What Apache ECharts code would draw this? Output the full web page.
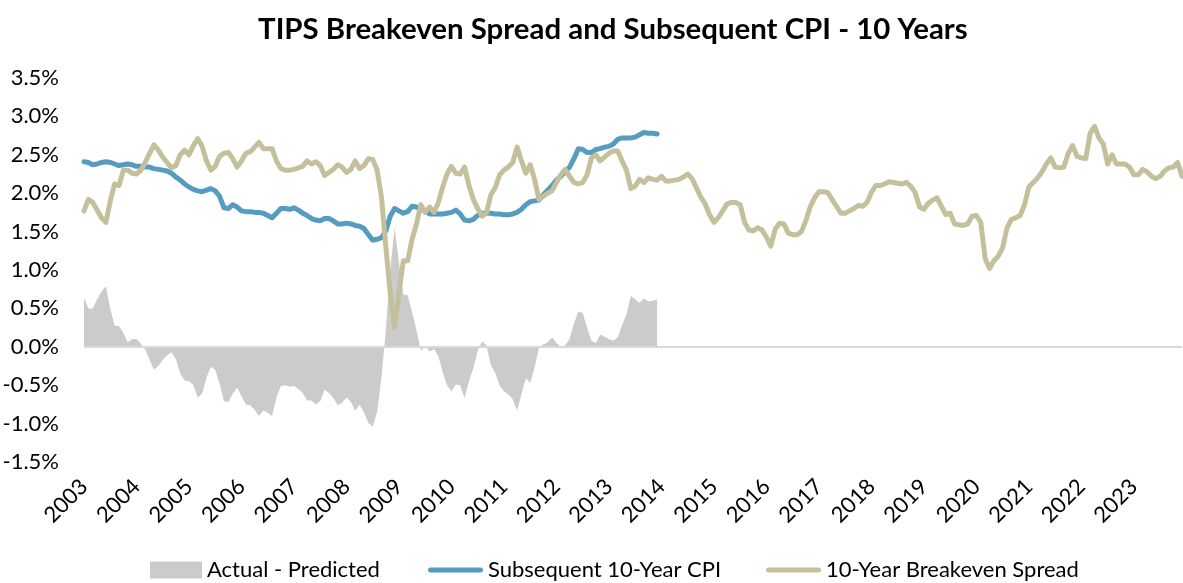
<!DOCTYPE html>
<html><head><meta charset="utf-8">
<script src="https://cdn.jsdelivr.net/npm/echarts@6/dist/echarts.min.js"></script>
<style>html,body{margin:0;padding:0;background:#fff}#c{width:1183px;height:583px}</style>
</head><body><div id="c"></div>
<script>
const years = ['2003','2004','2005','2006','2007','2008','2009','2010','2011','2012','2013',
  '2014','2015','2016','2017','2018','2019','2020','2021','2022','2023'];
const months = [];
years.forEach(y => { for (let m = 1; m <= 12; m++) months.push(y + '-' + String(m).padStart(2, '0')); });

const breakeven = [
  1.77,1.92,1.88,1.78,1.68,1.62,1.90,2.12,2.10,2.30,2.30,2.26,
  2.25,2.30,2.40,2.52,2.63,2.56,2.47,2.40,2.33,2.36,2.50,2.56,
  2.50,2.62,2.71,2.61,2.42,2.30,2.35,2.48,2.52,2.53,2.45,2.34,
  2.42,2.52,2.54,2.60,2.66,2.58,2.58,2.58,2.42,2.32,2.30,2.30,
  2.31,2.33,2.35,2.42,2.38,2.41,2.36,2.23,2.27,2.31,2.37,2.34,
  2.27,2.31,2.42,2.32,2.36,2.45,2.44,2.30,1.95,1.30,0.70,0.25,
  0.70,1.12,1.12,1.40,1.60,1.85,1.75,1.82,1.75,1.88,2.08,2.25,
  2.35,2.26,2.25,2.34,2.10,1.92,1.80,1.70,1.74,1.98,2.07,2.24,
  2.30,2.34,2.40,2.60,2.42,2.26,2.37,2.18,1.92,1.96,2.00,2.03,
  2.14,2.24,2.31,2.22,2.14,2.12,2.14,2.24,2.46,2.50,2.42,2.47,
  2.52,2.55,2.55,2.42,2.30,2.06,2.09,2.18,2.14,2.20,2.18,2.17,
  2.22,2.16,2.16,2.17,2.18,2.21,2.25,2.19,2.07,1.95,1.86,1.72,
  1.62,1.68,1.77,1.86,1.88,1.88,1.85,1.62,1.52,1.51,1.55,1.52,
  1.43,1.31,1.53,1.61,1.60,1.48,1.46,1.46,1.50,1.64,1.82,1.94,
  2.02,2.02,2.01,1.92,1.83,1.74,1.74,1.77,1.80,1.84,1.83,1.88,
  2.01,2.10,2.10,2.12,2.15,2.14,2.13,2.12,2.14,2.09,2.01,1.82,
  1.79,1.87,1.91,1.94,1.83,1.72,1.74,1.60,1.59,1.58,1.60,1.70,
  1.71,1.62,1.15,1.02,1.12,1.18,1.29,1.55,1.66,1.68,1.71,1.85,
  2.08,2.14,2.20,2.28,2.38,2.46,2.34,2.33,2.34,2.52,2.62,2.48,
  2.46,2.45,2.78,2.87,2.72,2.64,2.38,2.50,2.38,2.38,2.38,2.34,
  2.24,2.24,2.31,2.28,2.22,2.19,2.22,2.29,2.33,2.34,2.40,2.22
];

const subsequentCpi = [
  2.41,2.40,2.37,2.38,2.40,2.41,2.40,2.38,2.36,2.37,2.38,2.37,
  2.35,2.35,2.34,2.34,2.32,2.31,2.30,2.29,2.26,2.21,2.17,2.12,
  2.08,2.05,2.03,2.02,2.04,2.06,2.03,1.96,1.81,1.80,1.85,1.82,
  1.77,1.76,1.76,1.75,1.75,1.74,1.71,1.68,1.74,1.80,1.80,1.79,
  1.81,1.78,1.74,1.71,1.67,1.65,1.64,1.67,1.67,1.64,1.60,1.60,
  1.61,1.60,1.58,1.57,1.54,1.46,1.39,1.40,1.42,1.51,1.70,1.80,
  1.77,1.74,1.76,1.83,1.82,1.79,1.77,1.73,1.73,1.73,1.73,1.74,
  1.75,1.78,1.73,1.65,1.64,1.66,1.71,1.74,1.74,1.74,1.73,1.73,
  1.72,1.72,1.73,1.75,1.79,1.85,1.89,1.90,1.91,1.98,2.04,2.10,
  2.17,2.22,2.28,2.34,2.45,2.58,2.57,2.53,2.53,2.57,2.58,2.60,
  2.61,2.64,2.70,2.72,2.72,2.72,2.73,2.76,2.79,2.78,2.78,2.77
];

const actualMinusPredicted = [
  0.64,0.50,0.50,0.62,0.72,0.79,0.50,0.27,0.27,0.18,0.06,0.10,
  0.10,0.04,-0.04,-0.17,-0.30,-0.25,-0.17,-0.11,-0.07,-0.16,-0.35,-0.44,
  -0.45,-0.50,-0.66,-0.61,-0.40,-0.26,-0.30,-0.48,-0.71,-0.72,-0.61,-0.53,
  -0.64,-0.75,-0.76,-0.82,-0.90,-0.83,-0.86,-0.90,-0.66,-0.51,-0.50,-0.52,
  -0.51,-0.55,-0.60,-0.70,-0.70,-0.75,-0.71,-0.56,-0.60,-0.67,-0.76,-0.73,
  -0.66,-0.72,-0.83,-0.75,-0.86,-0.99,-1.04,-0.85,-0.40,0.22,1.00,1.55,
  1.10,0.68,0.67,0.45,0.22,-0.05,0.01,-0.06,-0.03,-0.12,-0.33,-0.50,
  -0.58,-0.49,-0.50,-0.67,-0.45,-0.28,-0.05,0.07,0.02,-0.24,-0.34,-0.50,
  -0.58,-0.62,-0.68,-0.83,-0.62,-0.41,-0.47,-0.27,-0.01,0.03,0.06,0.12,
  0.05,0.00,0.02,0.10,0.30,0.46,0.44,0.25,0.08,0.05,0.16,0.13,
  0.10,0.08,0.12,0.28,0.42,0.66,0.62,0.57,0.63,0.59,0.60,0.62
];

const FONT = 'Lato';
const lineIcon = 'path://M2.5,0H52.5A2.5,2.5,0,0,1,52.5,5H2.5A2.5,2.5,0,0,1,2.5,0Z';
const legendText = { fontSize: 22, fontFamily: FONT, color: '#000' };

const chart = echarts.init(document.getElementById('c'), null, { renderer: 'canvas' });
chart.setOption({
  animation: false,
  backgroundColor: '#fff',
  title: {
    text: 'TIPS Breakeven Spread and Subsequent CPI - 10 Years',
    left: 253, top: 10,
    textStyle: { fontSize: 29.4, fontWeight: 'bold', fontFamily: FONT, color: '#000' }
  },
  grid: { left: 84, right: 1, top: 78, bottom: 121, containLabel: false, outerBoundsMode: 'none' },
  legend: [
    { data: ['Actual - Predicted'], left: 150, top: 559, padding: 0, icon: 'rect',
      itemWidth: 52, itemHeight: 17, textStyle: legendText },
    { data: ['Subsequent 10-Year CPI'], left: 428, top: 559, padding: 0, icon: lineIcon,
      itemWidth: 55, itemHeight: 5, textStyle: legendText },
    { data: ['10-Year Breakeven Spread'], left: 766, top: 559, padding: 0, icon: lineIcon,
      itemWidth: 55, itemHeight: 5, textStyle: legendText }
  ],
  xAxis: {
    type: 'category', data: months, boundaryGap: false,
    axisLine: { show: false }, axisTick: { show: false }, splitLine: { show: false },
    axisLabel: {
      interval: (i) => i % 12 === 0,
      formatter: (v) => v.slice(0, 4),
      rotate: 45, margin: 21, fontSize: 22, fontFamily: FONT, color: '#000'
    }
  },
  yAxis: {
    type: 'value', min: -1.5, max: 3.5, interval: 0.5,
    axisLine: { show: false }, axisTick: { show: false }, splitLine: { show: false },
    axisLabel: { formatter: (v) => v.toFixed(1) + '%', margin: 25, fontSize: 22, fontFamily: FONT, color: '#000' }
  },
  series: [
    {
      name: 'Actual - Predicted', type: 'line', data: actualMinusPredicted,
      symbol: 'none', color: '#cbcbcb', z: 1,
      lineStyle: { width: 0 }, areaStyle: { color: '#cbcbcb', opacity: 1 },
      markLine: { silent: true, symbol: 'none', label: { show: false },
        lineStyle: { color: '#d9d9d9', width: 2, type: 'solid' }, data: [{ yAxis: 0 }] }
    },
    {
      name: 'Subsequent 10-Year CPI', type: 'line', data: subsequentCpi,
      symbol: 'none', color: '#559cc0', z: 3,
      lineStyle: { width: 5, cap: 'round', join: 'round' }
    },
    {
      name: '10-Year Breakeven Spread', type: 'line', data: breakeven,
      symbol: 'none', color: '#c5c09c', z: 4,
      lineStyle: { width: 5, cap: 'round', join: 'round' }
    }
  ]
});
</script></body></html>
